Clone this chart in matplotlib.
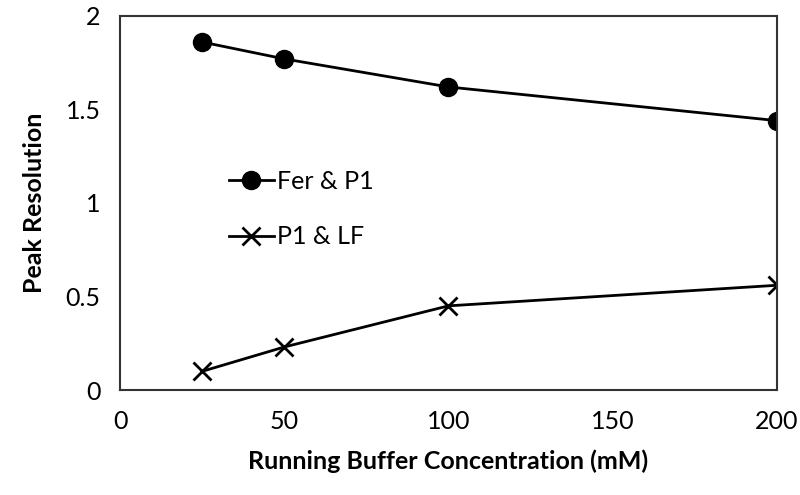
import matplotlib.pyplot as plt

plt.rcParams['font.family'] = ['Lato', 'DejaVu Sans']

conc = [25, 50, 100, 200]
fer_p1 = [1.86, 1.77, 1.62, 1.44]
p1_lf = [0.10, 0.23, 0.45, 0.56]

fig = plt.figure(figsize=(8, 4.95), dpi=100)
ax = fig.add_axes([0.15, 0.212, 0.821, 0.756])

ax.plot(conc, fer_p1, color='black', lw=2, marker='o', ms=13, label='Fer & P1')
ax.plot(conc, p1_lf, color='black', lw=2, marker='x', ms=13, mew=2, label='P1 & LF')

ax.set_xlim(0, 200)
ax.set_ylim(0, 2)
ax.set_xticks([0, 50, 100, 150, 200])
ax.set_yticks([0, 0.5, 1, 1.5, 2])
ax.set_yticklabels(['0', '0.5', '1', '1.5', '2'])
ax.tick_params(length=0, labelsize=18, pad=14)
for s in ax.spines.values():
    s.set_linewidth(1.5)
    s.set_color('#333333')

ax.set_xlabel('Running Buffer Concentration (mM)', fontsize=18, fontweight='bold', labelpad=12)
ax.set_ylabel('Peak Resolution', fontsize=18, fontweight='bold', labelpad=14)

ax.legend(loc='upper left', bbox_to_anchor=(0.15, 0.615), frameon=False, fontsize=18,
          handlelength=1.8, handletextpad=0.15, labelspacing=1.3, borderaxespad=0)

fig.savefig('out.png', dpi=100)
